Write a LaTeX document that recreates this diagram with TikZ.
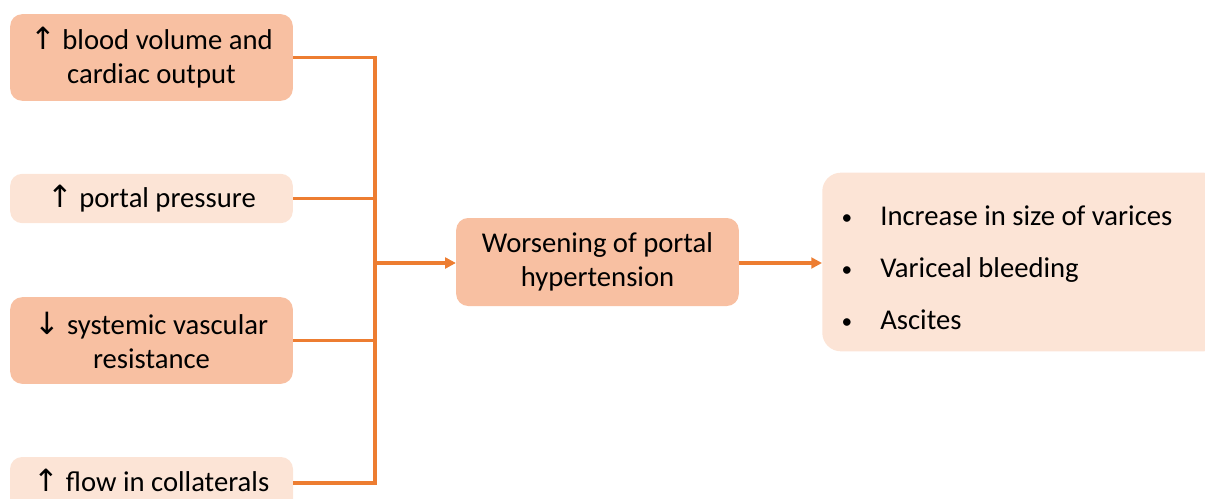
\documentclass[tikz,border=0pt]{standalone}
\usepackage{fontspec}
\setmainfont{Carlito}
\newfontfamily\arrowfont{DejaVu Sans}
\usetikzlibrary{arrows.meta}
\definecolor{boxdark}{RGB}{248,192,162}
\definecolor{boxlight}{RGB}{252,228,214}
\definecolor{lineor}{RGB}{237,125,49}
\newcommand{\upar}{{\arrowfont\fontsize{23}{25}\selectfont↑}}
\newcommand{\dnar}{{\arrowfont\fontsize{23}{25}\selectfont↓}}
\begin{document}
\begin{tikzpicture}[x=0.75pt,y=-0.75pt,
  txt/.style={font=\fontsize{21.5}{25.5}\selectfont},
  darkbox/.style={txt,fill=boxdark,rounded corners=9pt,inner sep=0pt,align=center},
  lightbox/.style={txt,fill=boxlight,rounded corners=9pt,inner sep=0pt,align=center},
  conn/.style={draw=lineor,line width=2.5pt},
  arr/.style={conn,-{Triangle[length=8pt,width=8pt]}}]
\useasboundingbox (0,0) rectangle (1205,499);
\begin{scope}
\clip (0,0) rectangle (1205,499);
\node[darkbox,minimum width=212pt,minimum height=65pt] (b1) at (151.5,57.5) {\upar{} blood volume and\\cardiac output};
\node[lightbox,minimum width=212pt,minimum height=37pt] (b2) at (151.5,198.5) {\upar{} portal pressure};
\node[darkbox,minimum width=212pt,minimum height=65pt] (b3) at (151.5,340.5) {\dnar{} systemic vascular\\resistance};
\fill[boxlight,rounded corners=9pt] (10,457) rectangle (293,520);
\node[txt,inner sep=0pt,align=center,minimum width=212pt] (b4) at (151.5,480) {\upar{} flow in collaterals};
\node[darkbox,minimum width=212pt,minimum height=66pt] (w) at (597.5,262) {Worsening of portal\\hypertension};
\node[lightbox,rounded corners=14pt,minimum width=300pt,minimum height=134pt,anchor=west] (r) at (822,262) {};
\node[txt,inner sep=0pt,anchor=base west] (t1) at (880,225) {Increase in size of varices};
\node[txt,inner sep=0pt,anchor=base west] (t2) at (880,277) {Variceal bleeding};
\node[txt,inner sep=0pt,anchor=base west] (t3) at (880,329) {Ascites};
\node[font=\fontsize{16}{20}\selectfont,anchor=base] (d1) at (847,224) {•};
\node[font=\fontsize{16}{20}\selectfont,anchor=base] (d2) at (847,276) {•};
\node[font=\fontsize{16}{20}\selectfont,anchor=base] (d3) at (847,328) {•};
\coordinate (j1) at (375,57.5);
\coordinate (j4) at (375,483);
\coordinate (jm) at (375,263);
\draw[conn] (b1.east) -- (j1) -- (j4) -- (j4 -| b4.east);
\draw[conn] (b2.east) -- (b2.east -| jm);
\draw[conn] (b3.east) -- (b3.east -| jm);
\draw[arr] (jm) -- (jm -| w.west);
\draw[arr] (w.east |- jm) -- (jm -| r.west);
\end{scope}
\end{tikzpicture}
\end{document}
